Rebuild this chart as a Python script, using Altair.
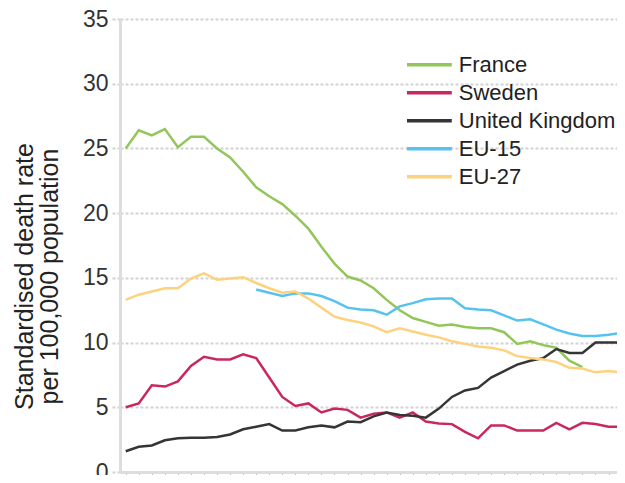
import altair as alt
import pandas as pd

years = list(range(1970, 2009))

france = [25.0, 26.4, 26.0, 26.5, 25.1, 25.9, 25.9, 25.0, 24.3, 23.2,
          22.0, 21.3, 20.7, 19.8, 18.8, 17.4, 16.1, 15.1, 14.8, 14.2,
          13.3, 12.5, 11.9, 11.6, 11.3, 11.4, 11.2, 11.1, 11.1, 10.8,
          9.9, 10.1, 9.8, 9.6, 8.6, 8.1]
sweden = [5.0, 5.3, 6.7, 6.6, 7.0, 8.2, 8.9, 8.7, 8.7, 9.1,
          8.8, 7.3, 5.8, 5.1, 5.3, 4.6, 4.9, 4.8, 4.2, 4.5,
          4.6, 4.2, 4.6, 3.9, 3.75, 3.7, 3.1, 2.6, 3.6, 3.6,
          3.2, 3.2, 3.2, 3.8, 3.3, 3.8, 3.7, 3.5, 3.5]
uk = [1.6, 1.95, 2.05, 2.45, 2.6, 2.65, 2.65, 2.7, 2.9, 3.3,
      3.5, 3.7, 3.2, 3.2, 3.45, 3.6, 3.45, 3.9, 3.85, 4.3,
      4.6, 4.4, 4.35, 4.2, 4.9, 5.8, 6.3, 6.5, 7.3, 7.8,
      8.3, 8.6, 8.8, 9.5, 9.2, 9.2, 10.0, 10.0, 10.0]
eu15_start = 1980
eu15 = [14.1, 13.85, 13.6, 13.8, 13.8, 13.6, 13.2, 12.7, 12.55, 12.5,
        12.15, 12.8, 13.05, 13.35, 13.4, 13.4, 12.65, 12.55, 12.5, 12.1,
        11.7, 11.8, 11.4, 11.0, 10.7, 10.5, 10.5, 10.6, 10.75]
eu27 = [13.3, 13.7, 13.95, 14.2, 14.2, 14.95, 15.35, 14.85, 14.95, 15.05,
        14.6, 14.2, 13.85, 13.95, 13.4, 12.7, 12.0, 11.75, 11.55, 11.25,
        10.8, 11.1, 10.85, 10.6, 10.4, 10.1, 9.9, 9.7, 9.6, 9.4,
        8.95, 8.8, 8.7, 8.5, 8.05, 8.0, 7.7, 7.8, 7.7]

series_names = ["France", "Sweden", "United Kingdom", "EU-15", "EU-27"]
series_colors = ["#93c65a", "#c9285e", "#353535", "#56c3ef", "#fdd27f"]
y_ticks = [0, 5, 10, 15, 20, 25, 30, 35]

rows = []
for y, v in zip(years, france):
    rows.append({"year": y, "value": v, "series": "France"})
for y, v in zip(years, sweden):
    rows.append({"year": y, "value": v, "series": "Sweden"})
for y, v in zip(years, uk):
    rows.append({"year": y, "value": v, "series": "United Kingdom"})
for k, v in enumerate(eu15):
    rows.append({"year": eu15_start + k, "value": v, "series": "EU-15"})
for y, v in zip(years, eu27):
    rows.append({"year": y, "value": v, "series": "EU-27"})
df = pd.DataFrame(rows)

FONT = "Liberation Sans, Arial, sans-serif"

chart = alt.Chart(df).mark_line(strokeWidth=2.5, clip=True).encode(
    x=alt.X("year:Q",
            scale=alt.Scale(domain=[1969.563, 2007.65], nice=False, zero=False),
            axis=alt.Axis(values=years, labels=False, ticks=True, tickSize=4,
                          tickColor="#bbbbbb", domainColor="#dddddd", domainWidth=3,
                          grid=False, title=None)),
    y=alt.Y("value:Q",
            scale=alt.Scale(domain=[0, 35], nice=False),
            axis=alt.Axis(values=y_ticks, grid=True, gridDash=[3, 2], gridColor="#d2d2d2",
                          gridWidth=1.8, tickSize=8, tickDash=[3, 2], tickColor="#d2d2d2",
                          tickWidth=1.8, domainColor="#dddddd", domainWidth=3,
                          labelFontSize=23, labelColor="#333333", labelPadding=4,
                          labelFont=FONT,
                          title=["Standardised death rate", "per 100,000 population"],
                          titleFont=FONT, titleFontSize=25, titleFontWeight="normal",
                          titleColor="#222222", titleLineHeight=25,
                          titleX=-96, titleY=257, titleAngle=-90,
                          titleAlign="center", titleBaseline="middle")),
    color=alt.Color("series:N",
                    scale=alt.Scale(domain=series_names, range=series_colors),
                    legend=alt.Legend(title=None, orient="none", legendX=293.4, legendY=29.8,
                                      symbolType="M-1.6,0H1.6", symbolSize=784,
                                      symbolStrokeWidth=3.5, labelFontSize=22,
                                      labelFont=FONT, labelColor="#222222",
                                      labelOffset=13.4, rowPadding=1, padding=0)),
).properties(
    width=497,
    height=453,
    autosize=alt.AutoSizeParams(type="none"),
    padding={"left": 112, "top": 11, "right": 0, "bottom": 3},
).configure_view(stroke=None)

chart.save("out.html", embed_options={"renderer": "svg", "actions": False})
